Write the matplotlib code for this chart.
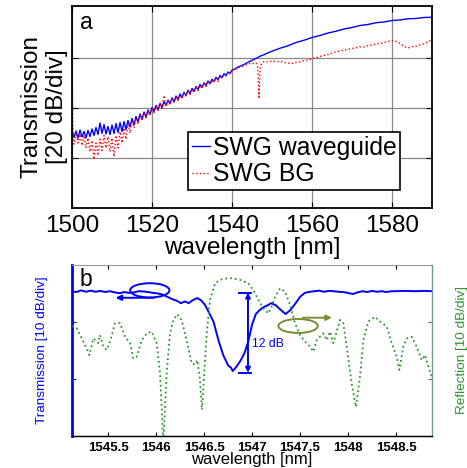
import numpy as np
import matplotlib
matplotlib.use("Agg")
import matplotlib.pyplot as plt
from matplotlib.patches import Ellipse

plt.rcParams['font.family'] = ['Liberation Sans', 'DejaVu Sans']

############## panel a data #################
wl_blue = [1500.0, 1500.5, 1501.0, 1501.5, 1502.0, 1502.5, 1503.0, 1503.5, 1504.0, 1504.5,
           1505.0, 1505.5, 1506.0, 1506.5, 1507.0, 1507.5, 1508.0, 1508.5, 1509.0, 1509.5,
           1510.0, 1510.5, 1511.0, 1511.5, 1512.0, 1512.5, 1513.0, 1513.5, 1514.0, 1514.5,
           1515.0, 1515.5, 1516.0, 1516.5, 1517.0, 1517.5, 1518.0, 1518.5, 1519.0, 1519.5,
           1520.0, 1520.5, 1521.0, 1521.5, 1522.0, 1522.5, 1523.0, 1523.5, 1524.0, 1524.5,
           1525.0, 1525.5, 1526.0, 1526.5, 1527.0, 1527.5, 1528.0, 1528.5, 1529.0, 1529.5,
           1530.0, 1530.5, 1531.0, 1531.5, 1532.0, 1532.5, 1533.0, 1533.5, 1534.0, 1534.5,
           1535.0, 1535.5, 1536.0, 1536.5, 1537.0, 1537.5, 1538.0, 1538.5, 1539.0, 1539.5,
           1540, 1541, 1542, 1543, 1544, 1545, 1546, 1547, 1548, 1549, 1550, 1552, 1554,
           1556, 1558, 1560, 1562, 1564, 1566, 1568, 1570, 1572, 1574, 1576, 1578, 1580,
           1582, 1584, 1586, 1588, 1590]
tr_blue = [-49.0, -51.8, -49.2, -52.0, -48.8, -51.6, -49.4, -52.0, -49.0, -51.4,
           -48.4, -51.0, -47.8, -50.6, -46.0, -50.2, -46.6, -50.4, -47.4, -50.6,
           -46.8, -50.2, -46.2, -49.8, -45.8, -49.4, -45.4, -48.6, -45.0, -47.6,
           -44.2, -46.8, -43.4, -45.6, -42.4, -44.6, -41.6, -43.6, -40.8, -42.6,
           -39.8, -41.4, -39.0, -40.6, -38.2, -39.8, -37.4, -39.0, -36.8, -38.2,
           -35.9, -37.5, -35.2, -36.6, -34.4, -35.9, -33.7, -35.0, -32.9, -34.2,
           -32.2, -33.4, -31.4, -32.6, -30.6, -31.8, -29.9, -31.0, -29.2, -30.2,
           -28.5, -29.4, -27.7, -28.6, -27.0, -27.8, -26.3, -27.0, -25.6, -26.2,
           -24.9, -24.1, -23.3, -22.6, -21.7, -20.9, -20.2, -19.3, -18.7, -17.9, -17.3, -16.1, -15.1,
           -13.8, -12.9, -11.8, -11.0, -10.0, -9.3, -8.4, -7.8, -7.0, -6.6, -5.9, -5.6, -5.0,
           -4.8, -4.3, -4.2, -3.8, -3.7]

wl_red = [1500.0, 1500.25, 1500.5, 1501.0, 1501.5, 1502.0, 1502.5, 1503.0, 1503.5, 1504.0,
          1504.5, 1505.0, 1505.5, 1506.0, 1506.5, 1507.0, 1507.5, 1508.0, 1508.5, 1509.0,
          1509.5, 1510.0, 1510.5, 1511.0, 1511.5, 1512.0, 1512.5, 1513.0, 1513.5, 1514.0,
          1514.5, 1515.0, 1515.5, 1516.0, 1516.5, 1517.0, 1517.5, 1518.0, 1518.5, 1519.0,
          1519.5, 1520.0, 1520.5, 1521.0, 1521.5, 1522.0, 1522.5, 1523.0, 1523.5, 1524.0,
          1524.5, 1525.0, 1525.5, 1526.0, 1526.5, 1527.0, 1527.5, 1528.0, 1528.5, 1529.0,
          1529.5, 1530.0, 1530.5, 1531.0, 1531.5, 1532.0, 1532.5, 1533.0, 1533.5, 1534.0,
          1534.5, 1535.0, 1535.5, 1536.0, 1536.5, 1537.0, 1537.5, 1538.0, 1538.5, 1539.0,
          1539.5, 1540.0, 1541.0, 1542.0, 1543.0, 1544.0, 1545.0, 1545.5, 1546.0, 1546.4,
          1546.6, 1546.75, 1546.9, 1547.1, 1547.5, 1548.0, 1549.0, 1550.0, 1551.0, 1552.0,
          1553.0, 1554.0, 1555.0, 1556.0, 1557.0, 1558.0, 1559.0, 1560.0, 1561.0, 1562.0,
          1563.0, 1564.0, 1565.0, 1566.0, 1567.0, 1568.0, 1569.0, 1570.0, 1571.0, 1572.0,
          1573.0, 1574.0, 1575.0, 1576.0, 1577.0, 1578.0, 1579.0, 1580.0, 1581.0, 1582.0,
          1583.0, 1584.0, 1585.0, 1586.0, 1587.0, 1588.0, 1589.0, 1590.0]
tr_red = [-27.5, -50.0, -54.5, -50.0, -54.0, -50.5, -55.0, -51.0, -56.0, -52.0,
          -57.5, -53.0, -60.5, -54.0, -59.0, -52.5, -57.0, -51.0, -56.0, -51.5,
          -57.5, -52.0, -59.5, -51.0, -56.0, -49.5, -54.0, -48.0, -52.5, -46.5,
          -50.0, -45.0, -48.0, -44.0, -46.5, -42.8, -45.0, -42.0, -44.0, -41.0,
          -43.0, -40.0, -41.8, -39.4, -41.0, -38.6, -40.2, -35.0, -39.4, -37.2,
          -38.8, -36.4, -37.8, -35.6, -37.0, -34.8, -36.2, -34.0, -35.4, -33.2,
          -34.6, -32.5, -33.8, -31.7, -33.0, -31.0, -32.2, -30.2, -31.4, -29.5,
          -30.6, -28.8, -29.8, -28.0, -29.4, -27.3, -28.2, -26.6, -27.2, -25.9,
          -26.4, -25.2, -24.4, -23.6, -23.2, -22.4, -22.0, -22.3, -22.0, -23.5,
          -29.0, -36.3, -28.0, -23.2, -22.2, -21.4, -21.6, -21.2, -21.5, -21.3,
          -21.8, -22.0, -22.2, -21.8, -21.6, -21.0, -20.8, -20.2, -20.0, -19.4,
          -19.0, -18.6, -18.0, -17.6, -17.2, -16.9, -16.5, -16.2, -15.9, -15.5,
          -15.6, -15.0, -14.9, -14.4, -14.2, -13.8, -13.4, -13.1, -13.4, -14.2,
          -15.4, -16.0, -15.5, -15.3, -14.8, -14.3, -13.6, -12.6]

############## panel b data #################
wl_t = [1545.125, 1545.17, 1545.22, 1545.27, 1545.32, 1545.37, 1545.42, 1545.47, 1545.52,
        1545.57, 1545.62, 1545.67, 1545.72, 1545.77, 1545.82, 1545.87, 1545.92, 1545.97,
        1546.02, 1546.07, 1546.12, 1546.17, 1546.22, 1546.26, 1546.3, 1546.34, 1546.38,
        1546.43, 1546.47, 1546.51, 1546.55, 1546.6, 1546.65, 1546.7, 1546.75, 1546.78,
        1546.8, 1546.84, 1546.88, 1546.92, 1546.96, 1547.0, 1547.04, 1547.08, 1547.12,
        1547.16, 1547.2, 1547.25, 1547.3, 1547.35, 1547.4, 1547.45, 1547.5, 1547.55,
        1547.6, 1547.65, 1547.7, 1547.75, 1547.8, 1547.85, 1547.9, 1547.95, 1548.0,
        1548.05, 1548.1, 1548.15, 1548.2, 1548.25, 1548.3, 1548.35, 1548.4, 1548.45,
        1548.5, 1548.6, 1548.7, 1548.8, 1548.875]
trans_b = [-4.6, -4.75, -4.45, -4.7, -4.5, -4.7, -4.55, -4.75, -4.6,
           -4.8, -4.95, -4.75, -4.9, -4.8, -4.6, -4.65, -4.75, -4.9,
           -5.0, -5.2, -5.6, -6.0, -6.3, -6.7, -6.4, -6.7, -6.2,
           -5.8, -6.2, -7.0, -8.3, -10.0, -13.2, -15.8, -17.6, -18.0,
           -18.6, -17.8, -16.8, -15.5, -13.5, -10.5, -8.6, -7.9, -7.4,
           -7.1, -6.7, -7.1, -7.9, -8.6, -7.9, -6.8, -5.6, -4.9,
           -4.7, -4.6, -4.5, -4.7, -4.55, -4.6, -4.7, -4.75, -4.9,
           -5.1, -4.8, -4.6, -4.75, -4.55, -4.7, -4.6, -4.75, -4.6,
           -4.6, -4.55, -4.6, -4.55, -4.6]

wl_r = [1545.125, 1545.174, 1545.243, 1545.306, 1545.347, 1545.399, 1545.417, 1545.451,
        1545.486, 1545.521, 1545.573, 1545.625, 1545.677, 1545.729, 1545.764, 1545.799,
        1545.851, 1545.903, 1545.955, 1546.007, 1546.042, 1546.076, 1546.111, 1546.146,
        1546.181, 1546.222, 1546.267, 1546.319, 1546.372, 1546.406, 1546.431, 1546.458,
        1546.479, 1546.500, 1546.528, 1546.563, 1546.615, 1546.684, 1546.771, 1546.875,
        1546.962, 1547.014, 1547.066, 1547.118, 1547.170, 1547.205, 1547.240, 1547.292,
        1547.344, 1547.396, 1547.448, 1547.500, 1547.552, 1547.604, 1547.639, 1547.674,
        1547.708, 1547.743, 1547.778, 1547.813, 1547.847, 1547.882, 1547.917, 1547.951,
        1547.986, 1548.038, 1548.083, 1548.125, 1548.160, 1548.212, 1548.281, 1548.333,
        1548.403, 1548.455, 1548.507, 1548.535, 1548.576, 1548.611, 1548.663, 1548.715,
        1548.767, 1548.802, 1548.837, 1548.872]
refl_b = [-10.7, -11.1, -13.45, -15.8, -12.9, -13.7, -12.3, -14.3,
          -14.9, -13.45, -10.2, -10.2, -12.6, -13.7, -16.4, -16.1,
          -13.2, -12.0, -11.7, -13.7, -19.0, -31.0, -19.0, -12.0,
          -9.65, -8.65, -9.65, -13.2, -17.25, -17.5, -16.7, -20.2,
          -25.4, -19.6, -12.0, -6.1, -3.2, -2.5, -2.3, -2.6,
          -3.2, -4.4, -6.1, -7.6, -8.5, -7.3, -5.6, -4.1,
          -4.7, -7.0, -10.2, -12.3, -13.45, -14.3, -15.2, -13.2,
          -12.6, -12.0, -13.2, -11.7, -13.7, -11.7, -9.65, -10.2,
          -14.3, -20.8, -24.9, -19.6, -13.2, -9.9, -9.1, -9.9,
          -10.8, -13.7, -16.1, -18.4, -14.3, -12.9, -12.6, -14.3,
          -16.7, -15.8, -17.8, -19.6]

blue = "#0000ff"
green = "#2a962a"
olive = "#7f8a35"

fig = plt.figure(figsize=(4.67, 4.68), dpi=100)

###############PANEL A################
ax = fig.add_axes([0.1542, 0.5556, 0.7709, 0.4316])
ax.plot(wl_blue, tr_blue, color=blue, lw=1.0, label="SWG waveguide")
ax.plot(wl_red, tr_red, color="red", lw=1.0, ls=":", label="SWG BG")
ax.set_xlim(1500, 1590)
ax.set_ylim(-80, 0.8)
ax.set_xticks([1500, 1520, 1540, 1560, 1580])
ax.set_yticks([-60, -40, -20])
ax.set_yticklabels([])
ax.grid(True, color="#888888", lw=0.9)
ax.tick_params(direction="in", labelsize=17.5, pad=5, length=4, top=True, right=True)
for s in ax.spines.values():
    s.set_linewidth(1.3)
ax.set_xlabel("wavelength [nm]", fontsize=17.5, labelpad=0)
ax.set_ylabel("Transmission\n[20 dB/div]", fontsize=17.5, labelpad=-2, linespacing=1.2)
ax.text(0.022, 0.975, "a", transform=ax.transAxes, fontsize=16.5, va="top")
leg = ax.legend(loc="lower left", bbox_to_anchor=(0.322, 0.089), fontsize=17.8,
                handlelength=0.75, handletextpad=0.1, borderpad=0.15,
                labelspacing=0.1, fancybox=False, framealpha=1, borderaxespad=0)
leg.get_frame().set_edgecolor("black")
leg.get_frame().set_linewidth(1.2)

###############PANEL B################
axb = fig.add_axes([0.1542, 0.0684, 0.7709, 0.3654])
axr = axb.twinx()
axb.plot(wl_t, trans_b, color=blue, lw=1.4, zorder=3)
axr.plot(wl_r, refl_b, color=green, lw=1.3, ls=":")
axb.set_xlim(1545.125, 1548.875)
axb.set_ylim(-30, 0)
axr.set_ylim(-30, 0)
axb.set_xticks([1545.5, 1546, 1546.5, 1547, 1547.5, 1548, 1548.5])
axb.set_xticklabels(["1545.5", "1546", "1546.5", "1547", "1547.5", "1548", "1548.5"])
axb.set_yticks([-20, -10])
axr.set_yticks([-20, -10])
axb.set_yticklabels([])
axr.set_yticklabels([])
axb.tick_params(axis="x", direction="in", labelsize=9.5, pad=4, length=3, top=True)
for lab in axb.get_xticklabels():
    lab.set_fontweight("bold")
axb.tick_params(axis="y", direction="in", length=3, color=blue)
axr.tick_params(axis="y", direction="in", length=3, color=green)
axb.spines["left"].set_color(blue)
axb.spines["left"].set_linewidth(2.0)
axr.spines["left"].set_visible(False)
axr.spines["right"].set_color("#6f9a9a")
axr.spines["right"].set_linewidth(1.0)
axr.spines["top"].set_color("#999999")
axr.spines["top"].set_linewidth(0.8)
axb.spines["top"].set_visible(False)
axb.spines["right"].set_visible(False)
axr.spines["bottom"].set_linewidth(1.0)
axb.set_xlabel("wavelength [nm]", fontsize=12, labelpad=-1)
axb.set_ylabel("Transmission [10 dB/div]", fontsize=9.7, color=blue, labelpad=14)
axr.set_ylabel("Reflection [10 dB/div]", fontsize=9.7, color=green, rotation=90, labelpad=14)
axb.text(0.022, 0.985, "b", transform=axb.transAxes, fontsize=16.5, va="top")

# annotations
axb.add_patch(Ellipse((1545.935, -4.45), 0.41, 2.5, fill=False, ec=blue, lw=1.4, zorder=4))
axb.annotate("", xy=(1545.55, -5.75), xytext=(1546.01, -5.75),
             arrowprops=dict(arrowstyle="-|>", color=blue, lw=1.4, mutation_scale=8))
axb.add_patch(Ellipse((1547.48, -10.7), 0.41, 2.45, fill=False, ec=olive, lw=1.4, zorder=4))
axb.annotate("", xy=(1547.86, -9.25), xytext=(1547.50, -9.25),
             arrowprops=dict(arrowstyle="-|>", color=olive, lw=1.4, mutation_scale=8))
axb.annotate("", xy=(1546.958, -18.9), xytext=(1546.958, -4.85),
             arrowprops=dict(arrowstyle="<|-|>", color=blue, lw=1.4, mutation_scale=7,
                             shrinkA=0, shrinkB=0))
axb.plot([1546.86, 1546.99], [-4.85, -4.85], color=blue, lw=1.4)
axb.plot([1546.86, 1546.99], [-18.9, -18.9], color=blue, lw=1.4)
axb.text(1547.0, -13.9, "12 dB", color=blue, fontsize=8.7, va="center", ha="left")

fig.savefig("out.png", dpi=100)
